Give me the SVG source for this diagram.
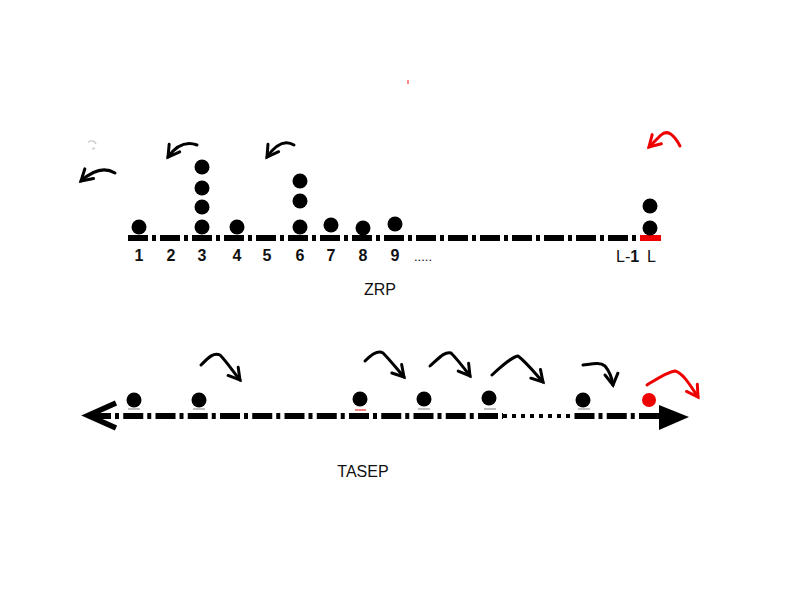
<svg xmlns="http://www.w3.org/2000/svg" width="800" height="600" viewBox="0 0 800 600">
<style>
.ball{fill:#000}
.rball{fill:#e00}
.lbl{font-family:"Liberation Sans",Arial,sans-serif;font-size:16px;font-weight:bold;fill:#111;text-anchor:middle}
.lbln{font-family:"Liberation Sans",Arial,sans-serif;font-size:16px;fill:#111}
.title{font-family:"Liberation Sans",Arial,sans-serif;font-size:16px;fill:#111;text-anchor:middle}
.dd{stroke:#000;stroke-width:6;fill:none;stroke-dasharray:20 4 4 4}
.dd2{stroke:#000;stroke-width:6;fill:none;stroke-dasharray:20 4 4 4.25}
.arr{fill:none;stroke:#000;stroke-width:3;stroke-linecap:round;stroke-linejoin:round}
.rarr{fill:none;stroke:#e00;stroke-width:3;stroke-linecap:round;stroke-linejoin:round}
.trace{stroke:#aaa;stroke-width:1.5}
</style>
<defs>
<marker id="ah" markerUnits="userSpaceOnUse" viewBox="-14 -10 18 20" markerWidth="18" markerHeight="20" refX="0" refY="0" orient="auto" overflow="visible">
<path d="M-11,-6.5 L0,0 L-11,6.5" fill="none" stroke="#000" stroke-width="3" stroke-linecap="round" stroke-linejoin="miter"/>
</marker>
<marker id="ahr" markerUnits="userSpaceOnUse" viewBox="-14 -10 18 20" markerWidth="18" markerHeight="20" refX="0" refY="0" orient="auto" overflow="visible">
<path d="M-11,-6.5 L0,0 L-11,6.5" fill="none" stroke="#e00" stroke-width="3" stroke-linecap="round" stroke-linejoin="miter"/>
</marker>
</defs>
<rect width="800" height="600" fill="#fff"/>
<rect x="407" y="80" width="2" height="4" fill="#f55" opacity="0.7"/>
<path d="M88,142 Q94,139 96,144 M92,149 L95,148" fill="none" stroke="#ccc" stroke-width="1.5"/>

<!-- ZRP lattice -->
<g id="zrp-lattice">
<line class="dd" x1="128" y1="238" x2="637" y2="238"/>
<line x1="640" y1="238" x2="661" y2="238" stroke="#e00" stroke-width="6"/>
</g>

<g id="zrp-labels">
<text class="lbl" x="139" y="261">1</text>
<text class="lbl" x="171" y="261">2</text>
<text class="lbl" x="202" y="261">3</text>
<text class="lbl" x="237" y="261">4</text>
<text class="lbl" x="267" y="261">5</text>
<text class="lbl" x="300" y="261">6</text>
<text class="lbl" x="331" y="261">7</text>
<text class="lbl" x="363" y="261">8</text>
<text class="lbl" x="395" y="261">9</text>
<text class="lbln" x="414" y="261" style="font-size:13px">.....</text>
<text class="lbln" x="616" y="262">L-<tspan font-weight="bold">1</tspan></text>
<text class="lbln" x="647" y="262">L</text>
</g>

<g id="zrp-particles">
<circle class="ball" cx="139" cy="227" r="7.5"/>
<circle class="ball" cx="202" cy="227" r="7.5"/>
<circle class="ball" cx="202" cy="207" r="7.5"/>
<circle class="ball" cx="202" cy="188" r="7.5"/>
<circle class="ball" cx="202" cy="167" r="7.5"/>
<circle class="ball" cx="237" cy="227" r="7.5"/>
<circle class="ball" cx="300" cy="227" r="7.5"/>
<circle class="ball" cx="300" cy="201" r="7.5"/>
<circle class="ball" cx="300" cy="181" r="7.5"/>
<circle class="ball" cx="331" cy="225" r="7.5"/>
<circle class="ball" cx="363" cy="228" r="7.5"/>
<circle class="ball" cx="395" cy="224" r="7.5"/>
<circle class="ball" cx="650" cy="228" r="7.5"/>
<circle class="ball" cx="650" cy="206" r="7.5"/>
</g>

<g id="zrp-connectors">
<path class="arr" d="M115,173 Q100,164 81,181" marker-end="url(#ah)"/>
<path class="arr" d="M197,145 Q181,139 168,157" marker-end="url(#ah)"/>
<path class="arr" d="M294,145 Q281,137 267,157" marker-end="url(#ah)"/>
<path class="rarr" d="M680,146 Q670,127 661,135 L649,147" marker-end="url(#ahr)"/>
</g>

<text id="zrp-title" class="title" x="380" y="295">ZRP</text>

<!-- TASEP lattice -->
<g id="tasep-lattice">
<line class="dd2" x1="91" y1="416" x2="503" y2="416"/>
<line x1="503" y1="416" x2="575" y2="416" stroke="#000" stroke-width="4" stroke-dasharray="4 5"/>
<line class="dd2" x1="574.5" y1="416" x2="659" y2="416"/>
<polyline points="116,403 88,415.5 116,428" fill="none" stroke="#000" stroke-width="5.5"/>
<polygon points="659,405 689,417 659,430" fill="#000"/>
</g>

<g id="tasep-particles">
<line class="trace" x1="128" y1="409" x2="140" y2="409"/>
<line class="trace" x1="193" y1="409" x2="205" y2="409"/>
<line class="trace" x1="418" y1="409" x2="430" y2="409"/>
<line class="trace" x1="484" y1="409" x2="496" y2="409"/>
<line class="trace" x1="578" y1="409" x2="590" y2="409"/>
<line x1="355" y1="410" x2="366" y2="410" stroke="#e55" stroke-width="1.5"/>
<circle class="ball" cx="134" cy="400" r="7.5"/>
<circle class="ball" cx="199" cy="400" r="7.5"/>
<circle class="ball" cx="360" cy="399" r="7.5"/>
<circle class="ball" cx="424" cy="399" r="7.5"/>
<circle class="ball" cx="489" cy="398" r="7.5"/>
<circle class="ball" cx="583" cy="400" r="7.5"/>
<circle class="rball" cx="649" cy="400" r="7"/>
</g>

<g id="tasep-connectors">
<path class="arr" d="M201,365 C209,357 214,352 220,355 C226,361 232,370 240,380" marker-end="url(#ah)"/>
<path class="arr" d="M365,361 C372,354 378,350 383,353 C390,360 397,369 404,377" marker-end="url(#ah)"/>
<path class="arr" d="M430,366 C439,358 445,351 451,353 C458,360 464,368 470,376" marker-end="url(#ah)"/>
<path class="arr" d="M492,375 C504,364 512,357 518,356 C526,362 534,372 543,382" marker-end="url(#ah)"/>
<path class="arr" d="M583,365 C592,364 600,362 605,366 C610,372 612,378 613,385" marker-end="url(#ah)"/>
<path class="rarr" d="M647,385 C657,379 667,372 675,371 C683,373 690,385 698,397" marker-end="url(#ahr)"/>
</g>

<text id="tasep-title" class="title" x="363" y="477">TASEP</text>
</svg>
